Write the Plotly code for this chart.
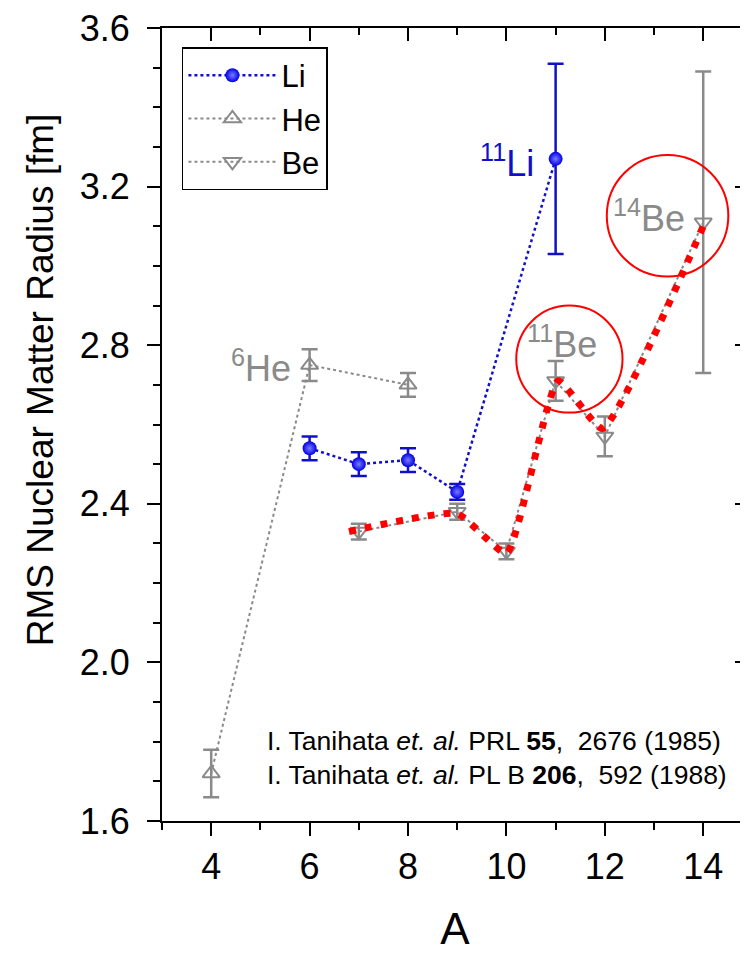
import plotly.graph_objects as go

# ---- data ----
li_A = [6, 7, 8, 9, 11]
li_r = [2.54, 2.50, 2.51, 2.43, 3.27]
li_err = [0.03, 0.03, 0.03, 0.02, 0.24]

he_A = [4, 6, 8]
he_r = [1.72, 2.75, 2.70]
he_err = [0.06, 0.04, 0.03]

be_A = [7, 9, 10, 11, 12, 14]
be_r = [2.33, 2.38, 2.28, 2.71, 2.57, 3.11]
be_err = [0.02, 0.02, 0.02, 0.05, 0.05, 0.38]

# red hand-drawn guide through the Be trend
red_A = [6.8, 9.0, 10.0, 11.05, 11.95, 14.0]
red_r = [2.33, 2.375, 2.275, 2.71, 2.59, 3.10]

y_ticks = [1.6, 2.0, 2.4, 2.8, 3.2, 3.6]
x_ticks = [4, 6, 8, 10, 12, 14]

FONT = "Arial, Liberation Sans, sans-serif"
BLUE = "#1010c8"
GRAY = "#8a8a8a"

fig = go.Figure()

fig.add_trace(go.Scatter(
    x=he_A, y=he_r, name="He", mode="lines+markers",
    line=dict(color=GRAY, width=2, dash="dot"),
    marker=dict(symbol="triangle-up-open", size=15, color=GRAY, line=dict(width=2, color=GRAY)),
    error_y=dict(type="data", array=he_err, color=GRAY, thickness=2.5, width=8),
))
fig.add_trace(go.Scatter(
    x=be_A, y=be_r, name="Be", mode="lines+markers",
    line=dict(color=GRAY, width=2, dash="dot"),
    marker=dict(symbol="triangle-down-open", size=15, color=GRAY, line=dict(width=2, color=GRAY)),
    error_y=dict(type="data", array=be_err, color=GRAY, thickness=2.5, width=8),
))
fig.add_trace(go.Scatter(
    x=red_A, y=red_r, mode="lines", showlegend=False, hoverinfo="skip",
    line=dict(color="#ff0000", width=7, dash="7px,9px", shape="spline", smoothing=0.45),
))
fig.add_trace(go.Scatter(
    x=li_A, y=li_r, name="Li", mode="lines+markers",
    line=dict(color=BLUE, width=2.5, dash="dot"),
    marker=dict(symbol="circle", size=14, color="#0000e6",
                gradient=dict(type="radial", color="#7c7cff"),
                line=dict(width=0)),
    error_y=dict(type="data", array=li_err, color=BLUE, thickness=2.5, width=8),
))
# invisible anchor trace for the mirrored (top/right) tick axes
fig.add_trace(go.Scatter(x=[x_ticks[0]], y=[y_ticks[0]], xaxis="x2", yaxis="y2",
                         mode="markers", marker=dict(opacity=0), showlegend=False,
                         hoverinfo="skip"))

# order legend Li, He, Be
for tr, rank in zip(fig.data, [2, 3, 99, 1, 100]):
    tr.legendrank = rank

# circles highlighting halo nuclei
fig.add_shape(type="circle", xref="x", yref="y", x0=10.20, x1=12.36, y0=2.63, y1=2.90,
              line=dict(color="#ff0000", width=2))
fig.add_shape(type="circle", xref="x", yref="y", x0=12.04, x1=14.51, y0=2.973, y1=3.28,
              line=dict(color="#ff0000", width=2))

labels = [
    ("<sup>11</sup>Li", 10.61, 3.265, BLUE),
    ("<sup>11</sup>Be", 11.89, 2.808, GRAY),
    ("<sup>14</sup>Be", 13.675, 3.125, GRAY),
    ("<sup>6</sup>He", 5.67, 2.748, GRAY),
]
for txt, xx, yy, col in labels:
    fig.add_annotation(x=xx, y=yy, xref="x", yref="y", text=txt, showarrow=False,
                       xanchor="right", yanchor="middle",
                       font=dict(family=FONT, size=36, color=col))

fig.add_annotation(
    x=5.095, y=1.759, xref="x", yref="y", xanchor="left", yanchor="middle", align="left",
    showarrow=False,
    text=("I. Tanihata <i>et. al.</i> PRL <b>55</b>,\u00a0 2676 (1985)<br>"
          "I. Tanihata <i>et. al.</i> PL B <b>206</b>,\u00a0 592 (1988)"),
    font=dict(family=FONT, size=26.5, color="black"),
)

# y-axis title (placed as in the original, slightly above the axis centre)
fig.add_annotation(
    x=-0.208, y=0.556, xref="paper", yref="paper", xanchor="center", yanchor="middle",
    showarrow=False, textangle=-90, text="RMS Nuclear Matter Radius [fm]",
    font=dict(family=FONT, size=37, color="black"),
)

axis_common = dict(showline=True, linecolor="black", linewidth=2, showgrid=False,
                   zeroline=False, tickcolor="black", tickwidth=2, automargin=False)

fig.update_layout(
    width=740, height=945,
    margin=dict(l=154, r=0, t=20, b=132, autoexpand=False),
    paper_bgcolor="white", plot_bgcolor="white",
    font=dict(family=FONT, color="black"),
    showlegend=True,
    legend=dict(x=0.034, y=0.976, xanchor="left", yanchor="top",
                bordercolor="black", borderwidth=1.5, bgcolor="white",
                itemwidth=88,
                font=dict(family=FONT, size=31), tracegroupgap=0),
    xaxis=dict(range=[3, 14.91], tickvals=x_ticks, ticks="outside", ticklen=13, mirror=True,
               minor=dict(dtick=1, tick0=3, ticks="outside", ticklen=7, tickcolor="black", tickwidth=2),
               tickfont=dict(size=36), ticklabeloverflow="allow",
               title=dict(text="A", font=dict(size=44), standoff=31),
               **axis_common),
    yaxis=dict(range=[1.6, 3.6], tickvals=y_ticks, tickformat=".1f", ticks="outside", ticklen=13,
               mirror=True,
               minor=dict(dtick=0.1, tick0=1.6, ticks="outside", ticklen=7, tickcolor="black", tickwidth=2),
               tickfont=dict(size=36), ticklabelstandoff=10, ticklabeloverflow="allow",
               **axis_common),
    xaxis2=dict(range=[3, 14.91], overlaying="x", side="top", anchor="y2", tickvals=x_ticks,
                ticks="inside", ticklen=13, showticklabels=False,
                minor=dict(dtick=1, tick0=3, ticks="inside", ticklen=7, tickcolor="black", tickwidth=2),
                **axis_common),
    yaxis2=dict(range=[1.6, 3.6], overlaying="y", side="right", anchor="x2", tickvals=y_ticks,
                ticks="inside", ticklen=13, showticklabels=False,
                minor=dict(dtick=0.1, tick0=1.6, ticks="inside", ticklen=7, tickcolor="black", tickwidth=2),
                **axis_common),
)

fig.write_html("out.html")
